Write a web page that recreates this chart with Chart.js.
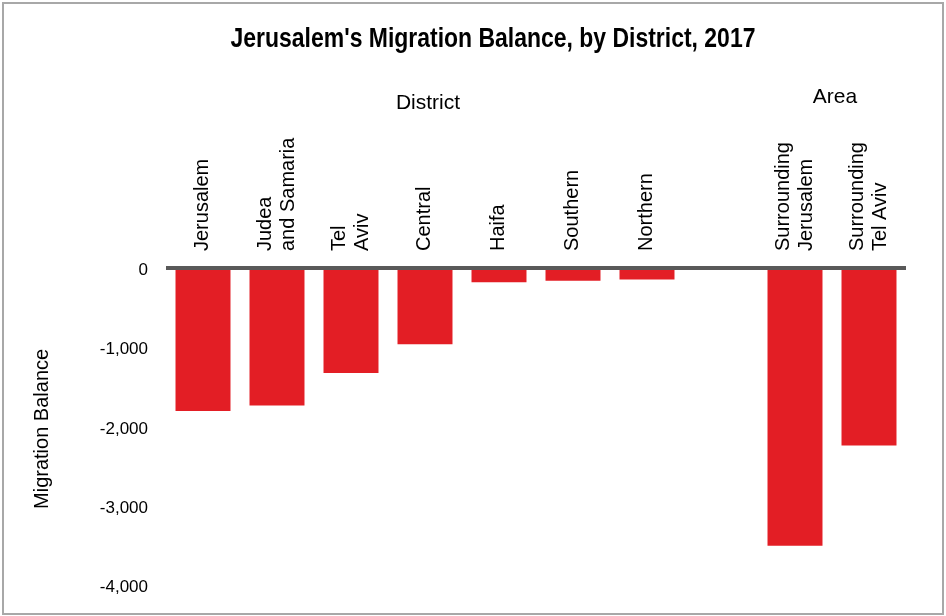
<!DOCTYPE html>
<html>
<head>
<meta charset="utf-8">
<title>Jerusalem's Migration Balance, by District, 2017</title>
<script src="https://cdn.jsdelivr.net/npm/chart.js@4.4.1/dist/chart.umd.min.js"></script>
<style>
  html, body { margin: 0; padding: 0; background: #fff; }
  canvas { display: block; }
</style>
</head>
<body>
<canvas id="migrationChart" width="946" height="616"></canvas>
<script>
// districts first, then a blank slot, then the two metro areas
const categories = [
  'Jerusalem',
  ['Judea', 'and Samaria'],
  ['Tel', 'Aviv'],
  'Central',
  'Haifa',
  'Southern',
  'Northern',
  '',
  ['Surrounding', 'Jerusalem'],
  ['Surrounding', 'Tel Aviv']
];
const balance = [-1775, -1705, -1295, -935, -155, -135, -120, null, -3470, -2210];
const yTickValues = [0, -1000, -2000, -3000, -4000];

const groupNames = ['District', 'Area'];
const groupFirst = [0, 8];
const groupLast = [6, 9];

const chartTitle = "Jerusalem's Migration Balance, by District, 2017";

const PLOT_TOP = 270;
const LABEL_FONT = '"Liberation Sans", Arial, sans-serif';

// bold title squeezed horizontally to get a condensed face
const titleText = {
  id: 'titleText',
  afterDraw(chart) {
    const { ctx } = chart;
    ctx.save();
    ctx.translate(493, 47);
    ctx.scale(0.82, 1);
    ctx.fillStyle = '#000';
    ctx.font = 'bold 28px ' + LABEL_FONT;
    ctx.textAlign = 'center';
    ctx.textBaseline = 'alphabetic';
    ctx.fillText(chartTitle, 0, 0);
    ctx.restore();
  }
};

// thick grey line at zero, drawn over the bar tops
const zeroLine = {
  id: 'zeroLine',
  afterDatasetsDraw(chart) {
    const { ctx, chartArea, scales } = chart;
    const y0 = scales.y.getPixelForValue(0);
    ctx.save();
    ctx.fillStyle = '#595959';
    ctx.fillRect(chartArea.left, y0 - 4, chartArea.right - chartArea.left, 4);
    ctx.restore();
  }
};

// "District" / "Area" headings above their groups of bars
const groupHeadings = {
  id: 'groupHeadings',
  afterDraw(chart) {
    const { ctx, scales } = chart;
    ctx.save();
    ctx.fillStyle = '#000';
    ctx.font = '21px ' + LABEL_FONT;
    ctx.textAlign = 'center';
    ctx.textBaseline = 'middle';
    const ys = [103, 97];
    groupNames.forEach((name, i) => {
      const x = (scales.x.getPixelForValue(groupFirst[i]) + scales.x.getPixelForValue(groupLast[i])) / 2 + 3;
      ctx.fillText(name, x, ys[i]);
    });
    ctx.restore();
  }
};

const frame = {
  id: 'frame',
  afterDraw(chart) {
    const { ctx } = chart;
    ctx.save();
    ctx.strokeStyle = '#a8a8a8';
    ctx.lineWidth = 2;
    ctx.strokeRect(3, 3, 940, 611);
    ctx.restore();
  }
};

const ctx = document.getElementById('migrationChart').getContext('2d');

new Chart(ctx, {
  type: 'bar',
  data: {
    labels: categories,
    datasets: [{
      data: balance,
      backgroundColor: '#e31e25',
      borderWidth: 0,
      barPercentage: 0.743,
      categoryPercentage: 1
    }]
  },
  options: {
    responsive: false,
    animation: false,
    devicePixelRatio: 1,
    layout: { padding: { left: 0, right: 40, top: 0, bottom: 28 } },
    plugins: {
      legend: { display: false },
      tooltip: { enabled: false },
      title: { display: false }
    },
    scales: {
      x: {
        position: 'top',
        grid: { display: false, drawTicks: false },
        border: { display: false },
        ticks: {
          autoSkip: false,
          minRotation: 90,
          maxRotation: 90,
          padding: 19,
          labelOffset: 34.5,
          color: '#000',
          // rotated top labels are stacked to the left of the tick;
          // the line height keeps one- and two-line labels centred
          font: c => ({
            family: LABEL_FONT,
            size: 20,
            lineHeight: Array.isArray(categories[c.index]) ? '23px' : '35.5px'
          })
        },
        afterFit(scale) {
          scale.height = PLOT_TOP;
        }
      },
      y: {
        min: -4000,
        max: 0,
        grid: { display: false, drawTicks: false },
        border: { display: false },
        afterBuildTicks(scale) {
          scale.ticks = yTickValues.map(v => ({ value: v }));
        },
        ticks: {
          padding: 18,
          color: '#000',
          font: { family: LABEL_FONT, size: 17 },
          callback: v => v.toLocaleString('en-US')
        },
        title: {
          display: true,
          text: 'Migration Balance',
          color: '#000',
          font: { family: LABEL_FONT, size: 20 },
          padding: { top: 30, bottom: 0 }
        },
        afterFit(scale) {
          scale.width = 166;
        }
      }
    }
  },
  plugins: [zeroLine, groupHeadings, titleText, frame]
});
</script>
</body>
</html>
